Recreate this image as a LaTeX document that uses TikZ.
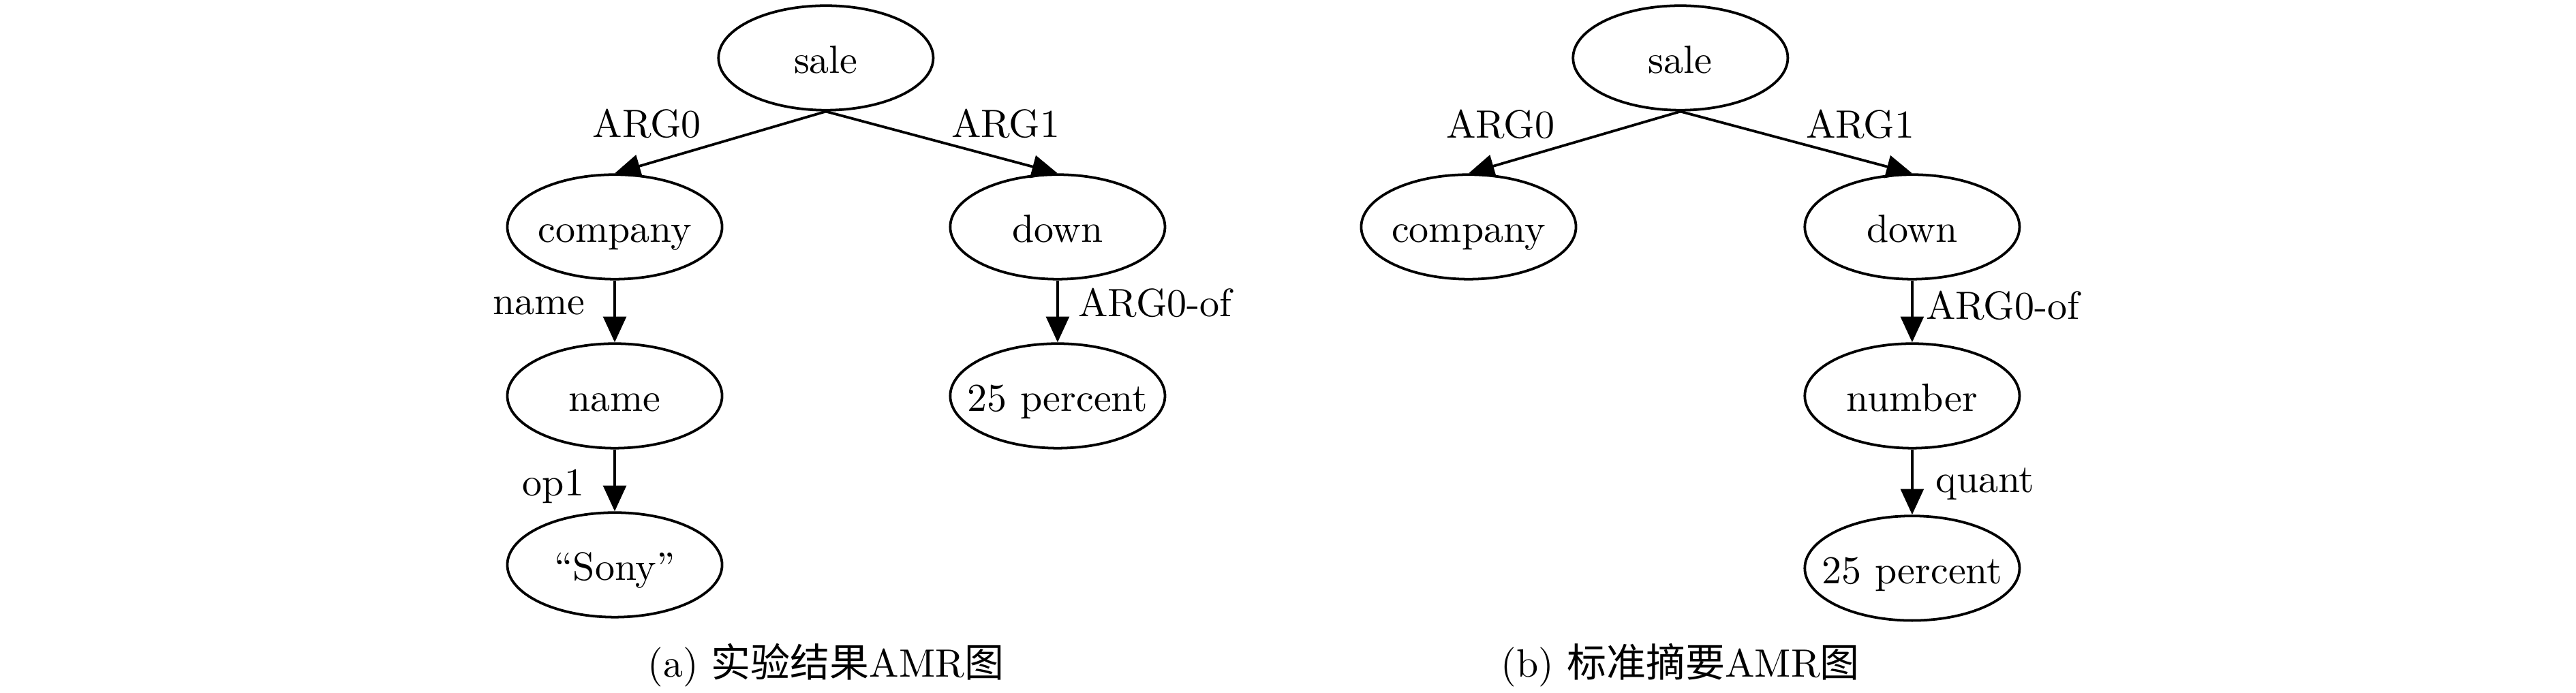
\documentclass[tikz,border=0pt]{standalone}
\usepackage{fontspec}
\newfontfamily\cjk{Noto Sans CJK SC}
\usepackage{tikz}
\usetikzlibrary{shapes.geometric, arrows.meta, positioning}
\tikzstyle{concept} = [ellipse, draw=black, line width=0.65pt, minimum width=1.91cm, minimum height=0.93cm, inner xsep=-3.6pt, inner ysep=0pt, text height=8pt, text depth=0.2pt, text centered]
\tikzstyle{rel} = [anchor=base, inner sep=0pt]
\tikzstyle{subcap} = [anchor=base, inner sep=0pt]
\tikzstyle{link} = [line width=0.65pt, -{Triangle[length=6.5pt, width=5.8pt]}]

\begin{document}
\begin{tikzpicture}[node distance=1.503cm]
\useasboundingbox (0,0) rectangle (22.91,-6.158);
% (a) grafo del risultato
\node (saleA) [concept] at (7.345,-0.515) {sale};
\node (companyA) [concept, below of=saleA, xshift=-1.878cm] {company};
\node (downA) [concept, below of=saleA, xshift=2.061cm] {down};
\node (nameA) [concept, below of=companyA] {name};
\node (pctA) [concept, below of=downA] {25 percent};
\node (sonyA) [concept, below of=nameA] {``Sony''};

\draw [link] (saleA.south) -- (companyA.north);
\draw [link] (saleA.south) -- (downA.north);
\draw [link] (companyA.south) -- (nameA.north);
\draw [link] (downA.south) -- (pctA.north);
\draw [link] (nameA.south) -- (sonyA.north);

\node (argzeroA) [rel] at (5.752,-1.224) {ARG0};
\node (argoneA) [rel] at (8.945,-1.224) {ARG1};
\node (relnameA) [rel] at (4.794,-2.800) {name};
\node (argofA) [rel] at (10.273,-2.818) {ARG0-of};
\node (oponeA) [rel] at (4.921,-4.412) {op1};

\node (capA) [subcap] at (7.345,-6.024) {(a) {\cjk 实验结果}AMR{\cjk 图}};

% (b) grafo di riferimento
\node (saleB) [concept] at (14.945,-0.515) {sale};
\node (companyB) [concept, below of=saleB, xshift=-1.884cm] {company};
\node (downB) [concept, below of=saleB, xshift=2.061cm] {down};
\node (numberB) [concept, below of=downB] {number};
\node (pctB) [concept, below of=numberB, yshift=-0.03cm] {25 percent};

\draw [link] (saleB.south) -- (companyB.north);
\draw [link] (saleB.south) -- (downB.north);
\draw [link] (downB.south) -- (numberB.north);
\draw [link] (numberB.south) -- (pctB.north);

\node (argzeroB) [rel] at (13.345,-1.230) {ARG0};
\node (argoneB) [rel] at (16.545,-1.230) {ARG1};
\node (argofB) [rel] at (17.812,-2.842) {ARG0-of};
\node (quantB) [rel] at (17.655,-4.376) {quant};

\node (capB) [subcap] at (14.945,-6.024) {(b) {\cjk 标准摘要}AMR{\cjk 图}};
\end{tikzpicture}
\end{document}
